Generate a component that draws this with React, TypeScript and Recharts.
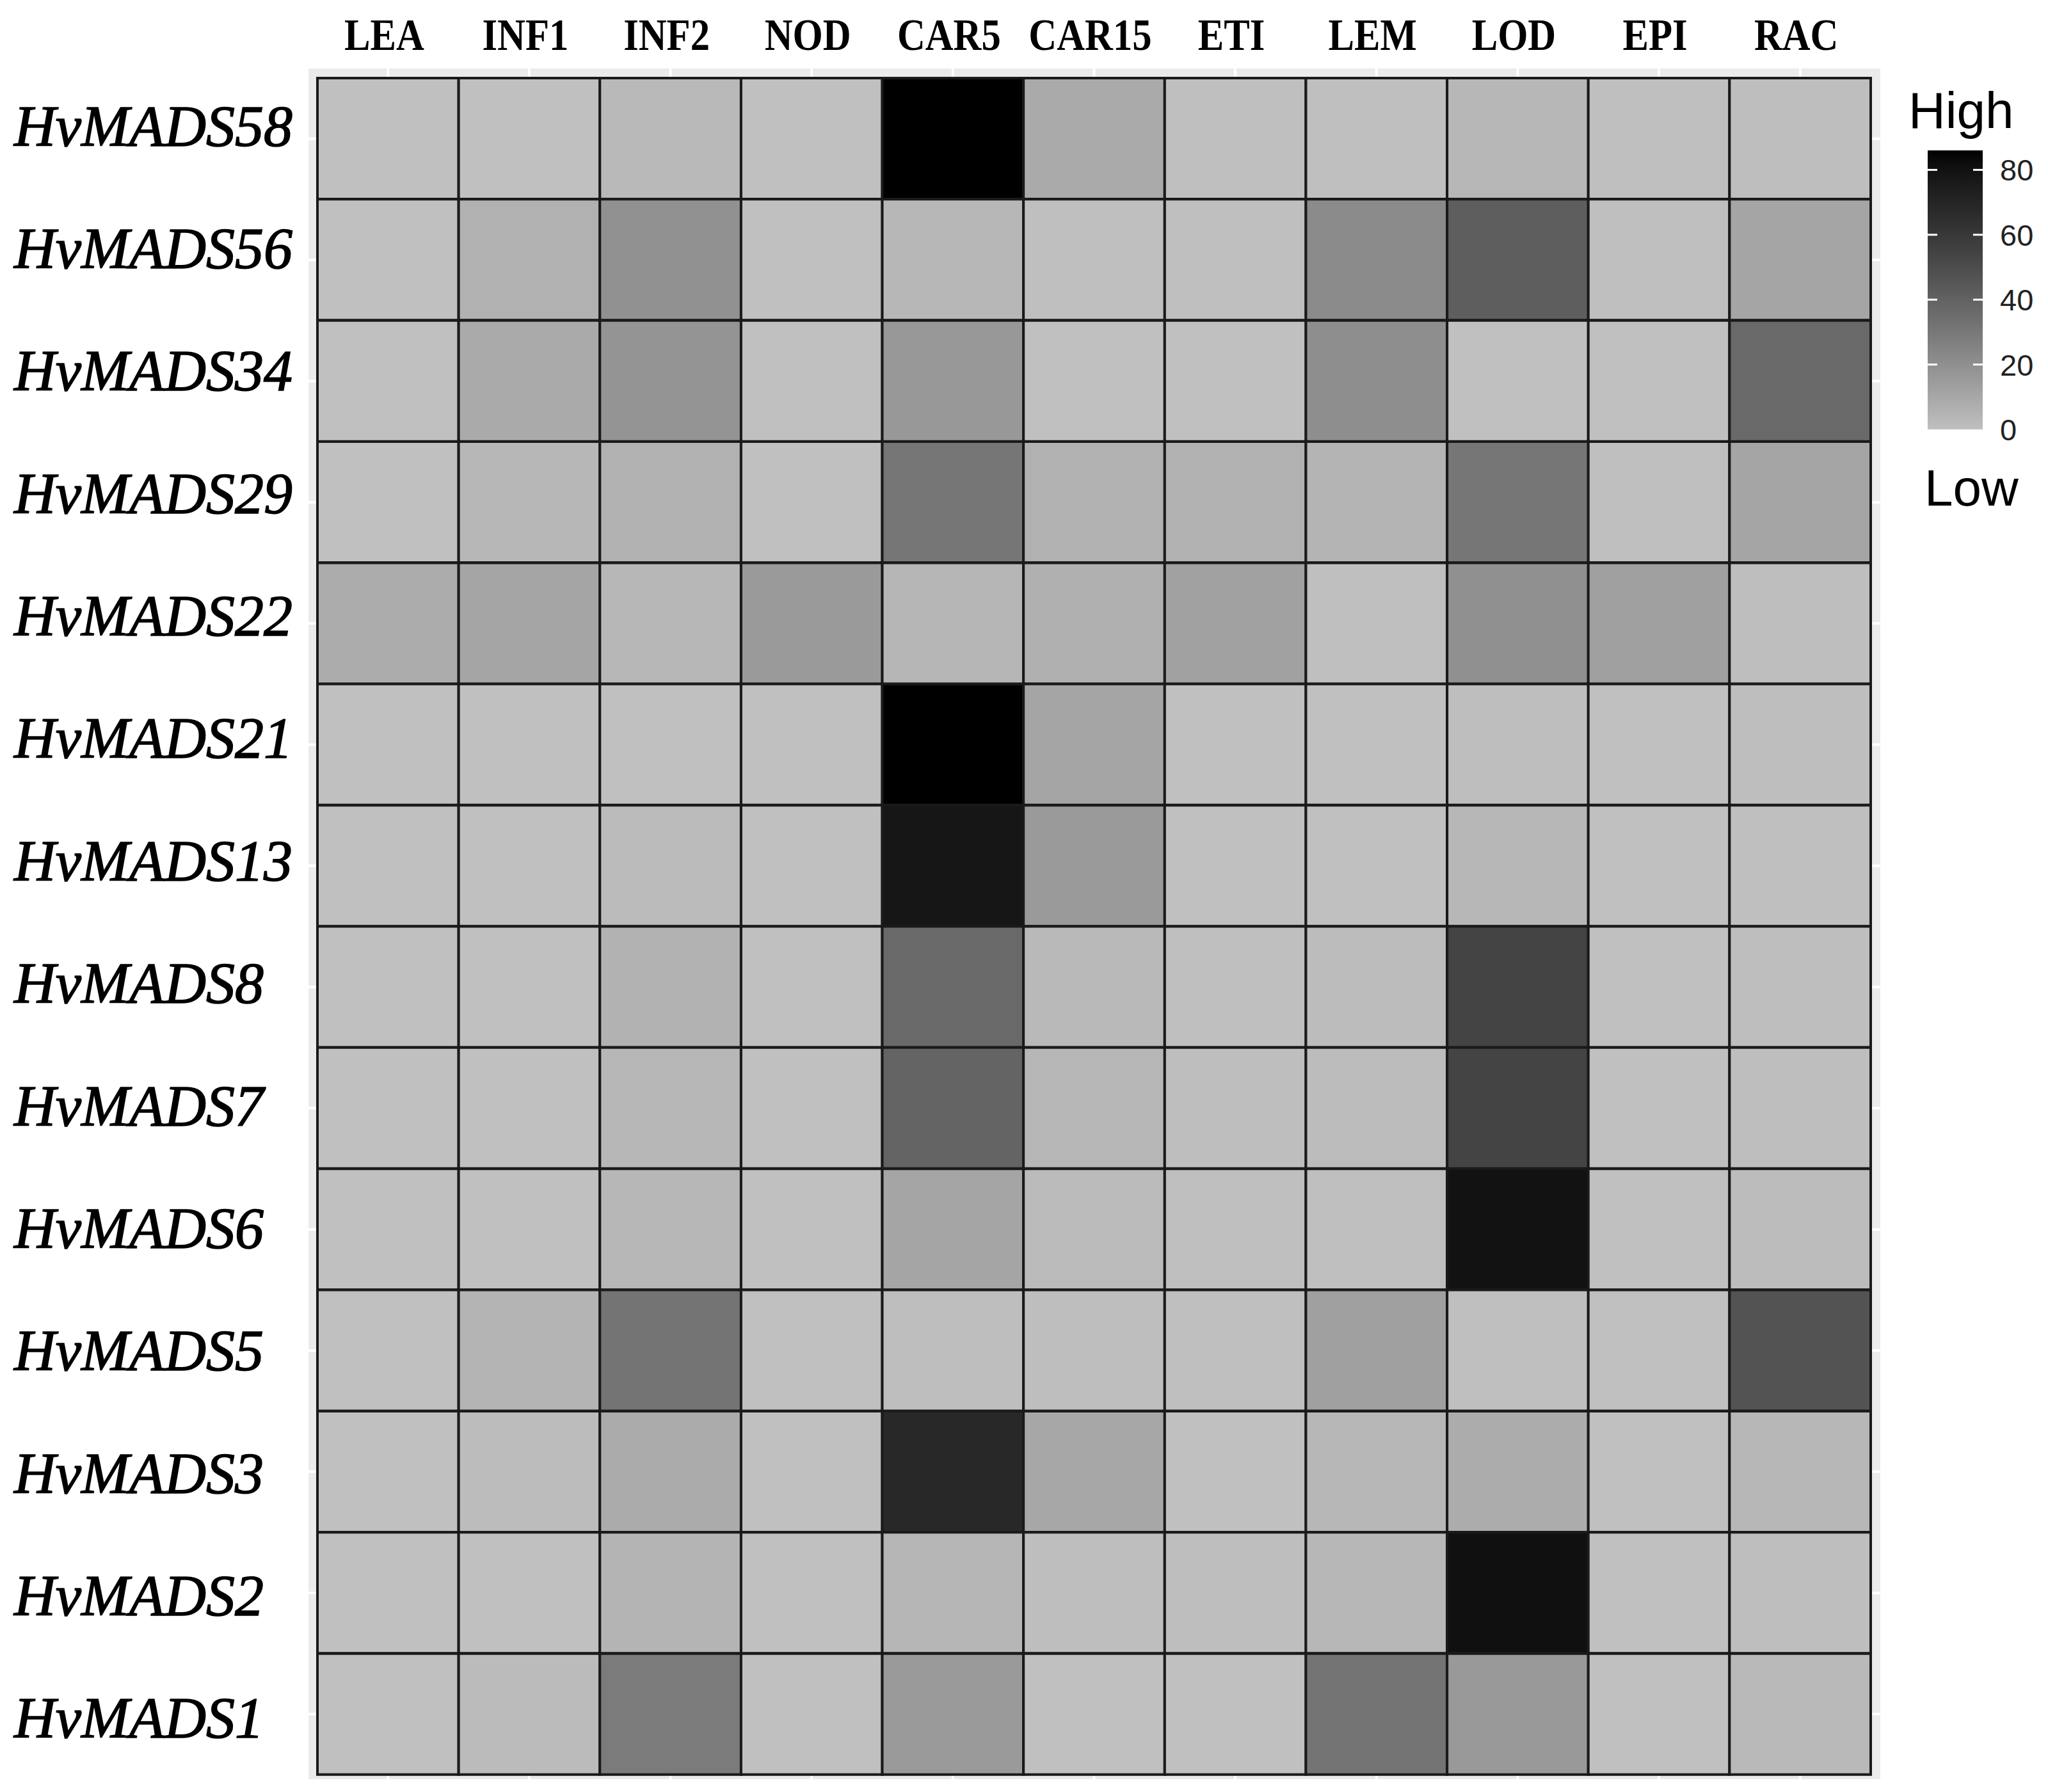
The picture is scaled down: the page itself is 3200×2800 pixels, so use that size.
import React from 'react';
import { BarChart, Bar, Cell, XAxis, YAxis, CartesianGrid } from 'recharts';

const tissues = ['LEA', 'INF1', 'INF2', 'NOD', 'CAR5', 'CAR15', 'ETI', 'LEM', 'LOD', 'EPI', 'RAC'];

const genes = [
  'HvMADS58', 'HvMADS56', 'HvMADS34', 'HvMADS29', 'HvMADS22', 'HvMADS21', 'HvMADS13',
  'HvMADS8', 'HvMADS7', 'HvMADS6', 'HvMADS5', 'HvMADS3', 'HvMADS2', 'HvMADS1'
];

// expression per tissue, same order as tissues
const hvMADS58 = [0, 0, 3, 0, 86, 9, 0.5, 0.5, 3.5, 0.5, 1];
const hvMADS56 = [0, 6, 19.5, 0, 3.5, 0.5, 0.5, 22, 42, 0.5, 11];
const hvMADS34 = [0, 9, 18, 0, 16.5, 0, 0, 20.5, 0, 0, 37];
const hvMADS29 = [0, 3.5, 6, 0, 31, 6, 6, 5, 31, 0.5, 11];
const hvMADS22 = [8, 11, 3.5, 15.5, 4, 6.5, 12.5, 0.5, 20, 13, 1];
const hvMADS21 = [0, 0, 0, 0, 86, 11, 0, 0, 1, 0, 1];
const hvMADS13 = [0, 0, 2, 0, 78, 15.5, 0, 0, 3.5, 0, 0.5];
const hvMADS8 = [0, 0, 5.5, 0, 37, 3, 0.5, 1.5, 54, 0, 1];
const hvMADS7 = [0, 0, 3.5, 0, 39, 3.5, 1, 1.5, 54, 0, 1];
const hvMADS6 = [0, 0, 3.5, 0, 11, 2, 0.5, 0.5, 80, 0, 1.5];
const hvMADS5 = [0, 5, 32, 0, 1, 1, 0.5, 13, 0.5, 0, 47];
const hvMADS3 = [0, 1.5, 8.5, 0, 68, 10, 0, 3.5, 8, 0, 3.5];
const hvMADS2 = [0, 0, 5, 0, 4, 1, 1, 3.5, 81, 0, 1];
const hvMADS1 = [0, 2, 29, 0, 15.5, 0, 0, 32, 16, 0, 3];

const expression = [
  hvMADS58, hvMADS56, hvMADS34, hvMADS29, hvMADS22, hvMADS21, hvMADS13,
  hvMADS8, hvMADS7, hvMADS6, hvMADS5, hvMADS3, hvMADS2, hvMADS1
];

const legendTicks = [0, 20, 40, 60, 80];

const VMAX = 86;
const L_LOW = 77.7; // lightness of the low end (#c0c0c0)

// gray ramp interpolated in Lab lightness, like ggplot's gradient
const shade = (v: number) => {
  const L = L_LOW * (1 - Math.min(v, VMAX) / VMAX);
  const Y = L > 8 ? Math.pow((L + 16) / 116, 3) : L / 903.3;
  const s = Y <= 0.0031308 ? 12.92 * Y : 1.055 * Math.pow(Y, 1 / 2.4) - 0.055;
  const g = Math.max(0, Math.min(255, Math.round(255 * s)));
  const h = g.toString(16).padStart(2, '0');
  return `#${h}${h}${h}`;
};

const rows = genes.map((gene) => {
  const row: Record<string, string | number> = { gene };
  tissues.forEach((_, j) => {
    row[`c${j}`] = 1;
  });
  return row;
});

const TissueTick = ({ x, y, payload }: { x?: number; y?: number; payload?: { value: number } }) => (
  <g transform={`translate(${(x || 0) - 6},${(y || 0) - 27}) scale(0.88,1)`}>
    <text
      x={0}
      y={0}
      textAnchor="middle"
      fontFamily="'Liberation Serif', serif"
      fontWeight="bold"
      fontSize={69}
      fill="#000"
    >
      {tissues[Math.floor(payload ? payload.value : 0)]}
    </text>
  </g>
);

// gene labels sit on a slightly wider pitch than the tiles in the original
const GeneTick = ({ y, index, payload }: { y?: number; index?: number; payload?: { value: string } }) => (
  <text
    x={22}
    y={(y || 0) + 11 + 2 * (index || 0)}
    fontFamily="'Liberation Serif', serif"
    fontStyle="italic"
    fontSize={90}
    fill="#000"
    stroke="#000"
    strokeWidth={1.6}
  >
    {payload ? payload.value : ''}
  </text>
);

const ColorBar = () => {
  const top = 235;
  const bottom = 671;
  const left = 3012;
  const width = 86;
  const yOf = (v: number) => bottom - (v / VMAX) * (bottom - top);
  const stops = Array.from({ length: 21 }, (_, i) => (i / 20) * VMAX);
  return (
    <svg
      width={3200}
      height={2800}
      style={{ position: 'absolute', left: 0, top: 0, pointerEvents: 'none' }}
    >
      <defs>
        <linearGradient id="ramp" x1="0" y1="1" x2="0" y2="0">
          {stops.map((v, i) => (
            <stop key={i} offset={`${(v / VMAX) * 100}%`} stopColor={shade(v)} />
          ))}
        </linearGradient>
      </defs>
      <text x={2982} y={200} fontFamily="'Liberation Sans', Arial, sans-serif" fontSize={80} fill="#000">
        High
      </text>
      <rect x={left} y={top} width={width} height={bottom - top} fill="url(#ramp)" />
      {legendTicks.map((t) => (
        <g key={t}>
          {t > 0 && (
            <>
              <line x1={left} x2={left + 15} y1={yOf(t)} y2={yOf(t)} stroke="#fff" strokeWidth={3} />
              <line x1={left + width - 15} x2={left + width} y1={yOf(t)} y2={yOf(t)} stroke="#fff" strokeWidth={3} />
            </>
          )}
          <text
            x={3125}
            y={yOf(t) + 17}
            fontFamily="'Liberation Sans', Arial, sans-serif"
            fontSize={47}
            fill="#222"
          >
            {t}
          </text>
        </g>
      ))}
      <text x={3007} y={790} fontFamily="'Liberation Sans', Arial, sans-serif" fontSize={80} fill="#000">
        Low
      </text>
    </svg>
  );
};

const App: React.FC = () => {
  return (
    <div style={{ position: 'absolute', left: 0, top: 0, width: 3200, height: 2800, background: '#fff' }}>
      <BarChart
        width={3200}
        height={2800}
        data={rows}
        layout="vertical"
        barCategoryGap={0}
        barGap={0}
        margin={{ top: 0, right: 260, bottom: 18, left: 0 }}
      >
        <CartesianGrid fill="#ebebeb" stroke="#fff" strokeWidth={4} />
        <XAxis
          type="number"
          orientation="top"
          domain={[0, tissues.length]}
          ticks={tissues.map((_, i) => i + 0.5)}
          padding={{ left: 16, right: 17 }}
          height={105}
          axisLine={false}
          tickLine={false}
          tickSize={0}
          tickMargin={0}
          tick={<TissueTick />}
          interval={0}
        />
        <YAxis
          type="category"
          dataKey="gene"
          width={480}
          padding={{ top: 17, bottom: 9 }}
          axisLine={false}
          tickLine={false}
          tickSize={0}
          tickMargin={0}
          tick={<GeneTick />}
          interval={0}
        />
        {tissues.map((tissue, j) => (
          <Bar
            key={tissue}
            dataKey={`c${j}`}
            stackId="tiles"
            stroke="#1a1a1a"
            strokeWidth={4}
            isAnimationActive={false}
          >
            {expression.map((vals, i) => (
              <Cell key={`${tissue}-${i}`} fill={shade(vals[j])} />
            ))}
          </Bar>
        ))}
      </BarChart>
      <ColorBar />
    </div>
  );
};

export default App;
